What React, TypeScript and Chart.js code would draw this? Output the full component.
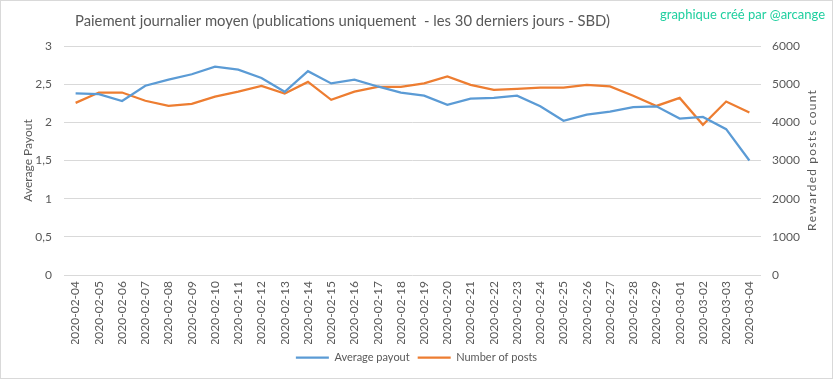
import React, { useEffect, useRef } from "react";
import { Chart, registerables } from "chart.js";

Chart.register(...registerables);

const dates = [
  "2020-02-04", "2020-02-05", "2020-02-06", "2020-02-07", "2020-02-08", "2020-02-09",
  "2020-02-10", "2020-02-11", "2020-02-12", "2020-02-13", "2020-02-14", "2020-02-15",
  "2020-02-16", "2020-02-17", "2020-02-18", "2020-02-19", "2020-02-20", "2020-02-21",
  "2020-02-22", "2020-02-23", "2020-02-24", "2020-02-25", "2020-02-26", "2020-02-27",
  "2020-02-28", "2020-02-29", "2020-03-01", "2020-03-02", "2020-03-03", "2020-03-04",
];

const averagePayout = [
  2.38, 2.37, 2.28, 2.48, 2.56, 2.63, 2.73, 2.69, 2.58, 2.4, 2.67, 2.51, 2.56, 2.47, 2.39,
  2.35, 2.23, 2.31, 2.32, 2.35, 2.21, 2.02, 2.1, 2.14, 2.2, 2.21, 2.05, 2.07, 1.91, 1.5,
];

const numberOfPosts = [
  4510, 4780, 4780, 4565, 4430, 4485, 4675, 4805, 4955, 4755, 5060, 4590, 4805, 4930, 4930,
  5020, 5200, 4980, 4850, 4875, 4910, 4910, 4980, 4940, 4695, 4430, 4640, 3935, 4545, 4255,
];

const leftTicks = [0, 0.5, 1, 1.5, 2, 2.5, 3];
const rightTicks = [0, 1000, 2000, 3000, 4000, 5000, 6000];

const chartTitle = "Paiement journalier moyen (publications uniquement  - les 30 derniers jours - SBD)";
const watermark = "graphique créé par @arcange";
const leftAxisTitle = "Average Payout";
const rightAxisTitle = "Rewarded posts count";
const seriesNames = ["Average payout", "Number of posts"];

const TEXT = "#595959";
const GRID = "#d9d9d9";
const BLUE = "#5B9BD5";
const ORANGE = "#ED7D31";
const FONT = "Lato";
const TITLE_WIDTH = 535;

function spacedText(ctx: CanvasRenderingContext2D, text: string, spacing: number) {
  const chars = Array.from(text);
  const widths = chars.map((c) => ctx.measureText(c).width);
  const total = widths.reduce((a, b) => a + b, 0) + spacing * (chars.length - 1);
  let x = -total / 2;
  ctx.textAlign = "left";
  chars.forEach((c, i) => {
    ctx.fillText(c, x, 0);
    x += widths[i] + spacing;
  });
}

const decorPlugin = {
  id: "decor",
  beforeDraw(chart: any) {
    const ctx = chart.ctx;
    ctx.save();
    ctx.fillStyle = "#ffffff";
    ctx.fillRect(0, 0, chart.width, chart.height);
    ctx.restore();
  },
  afterDraw(chart: any) {
    const ctx = chart.ctx;
    const area = chart.chartArea;
    ctx.save();
    ctx.strokeStyle = GRID;
    ctx.lineWidth = 1;
    ctx.strokeRect(0.5, 0.5, chart.width - 1, chart.height - 1);

    ctx.fillStyle = TEXT;
    ctx.font = `16px ${FONT}`;
    ctx.textAlign = "left";
    ctx.textBaseline = "middle";
    const tw = ctx.measureText(chartTitle).width;
    ctx.save();
    ctx.translate(75, 21);
    ctx.scale(Math.min(1, TITLE_WIDTH / tw), 1);
    ctx.fillText(chartTitle, 0, 0);
    ctx.restore();

    ctx.fillStyle = "#1fcf9f";
    ctx.font = `13px ${FONT}`;
    ctx.textAlign = "right";
    ctx.fillText(watermark, 825, 15);

    ctx.fillStyle = TEXT;
    ctx.font = `12px ${FONT}`;
    ctx.translate(812, (area.top + area.bottom) / 2);
    ctx.rotate(-Math.PI / 2);
    spacedText(ctx, rightAxisTitle, 1.2);
    ctx.restore();
  },
};

export default function App() {
  const ref = useRef<HTMLCanvasElement | null>(null);

  useEffect(() => {
    document.body.style.margin = "0";
    if (!ref.current) return;
    const chart = new Chart(ref.current, {
      type: "line",
      data: {
        labels: dates,
        datasets: [
          {
            label: seriesNames[0],
            data: averagePayout,
            borderColor: BLUE,
            backgroundColor: BLUE,
            borderWidth: 2.25,
            pointRadius: 0,
            pointStyle: "line",
            tension: 0,
            yAxisID: "y",
          },
          {
            label: seriesNames[1],
            data: numberOfPosts,
            borderColor: ORANGE,
            backgroundColor: ORANGE,
            borderWidth: 2.25,
            pointRadius: 0,
            pointStyle: "line",
            tension: 0,
            yAxisID: "y1",
          },
        ],
      },
      options: {
        responsive: false,
        animation: false,
        layout: { padding: { top: 46, left: 0, right: 0, bottom: 6 } },
        plugins: {
          title: { display: false },
          tooltip: { enabled: false },
          legend: {
            display: true,
            position: "bottom",
            labels: {
              usePointStyle: true,
              pointStyle: "line",
              pointStyleWidth: 33,
              color: TEXT,
              font: { family: FONT, size: 11 },
              padding: 8,
            },
          },
        },
        scales: {
          x: {
            offset: true,
            grid: { display: false, drawTicks: false },
            border: { display: false },
            ticks: {
              autoSkip: false,
              minRotation: 90,
              maxRotation: 90,
              color: TEXT,
              font: { family: FONT, size: 12 },
              padding: 6,
            },
            afterFit: (s: any) => {
              s.height = 69;
            },
          },
          y: {
            position: "left",
            min: 0,
            max: 3,
            afterBuildTicks: (s: any) => {
              s.ticks = leftTicks.map((v) => ({ value: v }));
            },
            ticks: {
              color: TEXT,
              font: { family: FONT, size: 12 },
              padding: 12,
              callback: (v: any) => String(v).replace(".", ","),
            },
            grid: { color: GRID, drawTicks: false, lineWidth: 1 },
            border: { display: false },
            title: {
              display: true,
              text: leftAxisTitle,
              color: TEXT,
              font: { family: FONT, size: 12 },
              padding: { top: 21, bottom: 0 },
            },
            afterFit: (s: any) => {
              s.width = 64;
            },
          },
          y1: {
            position: "right",
            min: 0,
            max: 6000,
            afterBuildTicks: (s: any) => {
              s.ticks = rightTicks.map((v) => ({ value: v }));
            },
            ticks: {
              color: TEXT,
              font: { family: FONT, size: 12 },
              padding: 11,
              callback: (v: any) => String(v),
            },
            grid: { display: false, drawTicks: false },
            border: { display: false },
            afterFit: (s: any) => {
              s.width = 72;
            },
          },
        },
      },
      plugins: [decorPlugin],
    });
    return () => chart.destroy();
  }, []);

  return (
    <div style={{ position: "absolute", left: 0, top: 0, width: 833, height: 379 }}>
      <canvas ref={ref} width={833} height={379} style={{ display: "block" }} />
    </div>
  );
}
